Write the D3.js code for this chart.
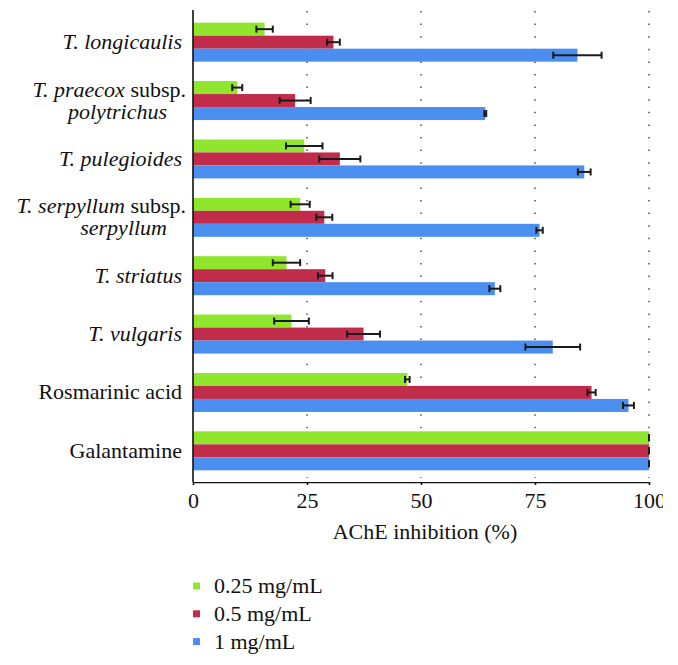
<!DOCTYPE html>
<html><head><meta charset="utf-8">
<script src="https://cdn.jsdelivr.net/npm/d3@7"></script>
<style>
html,body{margin:0;padding:0;background:#fff;}
svg{display:block;font-family:"Liberation Serif","DejaVu Serif",serif;}
</style></head>
<body>
<script>
const categories = ["T. longicaulis","T. praecox subsp. polytrichus","T. pulegioides","T. serpyllum subsp. serpyllum","T. striatus","T. vulgaris","Rosmarinic acid","Galantamine"];
const series = ["0.25 mg/mL","0.5 mg/mL","1 mg/mL"];
const v025 = [15.7, 9.7, 24.4, 23.5, 20.5, 21.6, 47.0, 100];
const e025 = [1.8, 1.1, 4.0, 2.1, 3.0, 3.8, 0.5, 0];
const v05  = [30.8, 22.4, 32.2, 28.8, 29.0, 37.4, 87.4, 100];
const e05  = [1.4, 3.4, 4.5, 1.75, 1.6, 3.6, 0.9, 0];
const v1   = [84.3, 64.1, 85.8, 76.0, 66.2, 78.9, 95.5, 100];
const e1   = [5.3, 0.2, 1.4, 0.7, 1.2, 6.0, 1.2, 0];
const xTicks = [0, 25, 50, 75, 100];
const colors = ["#8fe62c", "#c22c4b", "#4a8ef0"];

const values = [v025, v05, v1];
const errors = [e025, e05, e1];
const FS = 22;
const FONT = "'Liberation Serif', 'DejaVu Serif', serif";

const W = 678, H = 665;
const svg = d3.select("body").append("svg").attr("width", W).attr("height", H);

// the reference image is cropped just past the last tick label
svg.append("defs").append("clipPath").attr("id", "pageclip")
  .append("rect").attr("x", 0).attr("y", 0).attr("width", 663).attr("height", H);

const x = d3.scaleLinear().domain([0, 100]).range([193, 649]);
const y = d3.scaleBand().domain(categories).range([11, 482]).paddingInner(0.332).paddingOuter(0.2);
const yi = d3.scaleBand().domain(series).range([0, y.bandwidth()]);

// grid
svg.append("g").selectAll("line").data(xTicks.filter(t => t > 0)).join("line")
  .attr("x1", d => x(d)).attr("x2", d => x(d))
  .attr("y1", 11).attr("y2", 478)
  .attr("stroke", "#333").attr("stroke-width", 1.3)
  .attr("stroke-dasharray", "1.5 11.1");

// bars
const rows = [];
categories.forEach((c, i) => series.forEach((s, j) => rows.push({c, s, j, v: values[j][i], e: errors[j][i]})));

svg.append("g").selectAll("rect").data(rows).join("rect")
  .attr("x", x(0))
  .attr("y", d => y(d.c) + yi(d.s))
  .attr("width", d => x(d.v) - x(0))
  .attr("height", yi.bandwidth())
  .attr("fill", d => colors[d.j]);

// error bars
const eg = svg.append("g").attr("stroke", "#1a1a1a").attr("stroke-width", 2);
rows.forEach(d => {
  const cy = y(d.c) + yi(d.s) + yi.bandwidth() / 2;
  const x1 = x(d.v - d.e), x2 = x(d.v + d.e);
  eg.append("line").attr("x1", x1).attr("x2", x2).attr("y1", cy).attr("y2", cy);
  [x1, x2].forEach(xx => eg.append("line").attr("x1", xx).attr("x2", xx).attr("y1", cy - 3.5).attr("y2", cy + 3.5));
});

// axes
const xAxis = d3.axisBottom(x).tickValues(xTicks).tickSize(3).tickSizeOuter(0).tickPadding(4);
const gx = svg.append("g").attr("transform", "translate(0,482)").attr("clip-path", "url(#pageclip)").call(xAxis);
gx.attr("font-family", FONT).attr("font-size", FS);
gx.select(".domain").attr("stroke", "#111").attr("stroke-width", 1.6);
gx.selectAll(".tick line").attr("stroke", "#111").attr("stroke-width", 1.6).attr("y1", -6);
gx.selectAll(".tick text").attr("font-family", FONT)
  .attr("font-size", FS).attr("fill", "#111").attr("dy", null).attr("y", 26);

svg.append("line").attr("x1", x(0)).attr("x2", x(0)).attr("y1", 10).attr("y2", 482)
  .attr("stroke", "#111").attr("stroke-width", 1.6);

svg.append("text").attr("x", 425).attr("y", 539).attr("text-anchor", "middle")
  .attr("font-family", FONT).attr("font-size", FS).attr("fill", "#111").text("AChE inhibition (%)");

// category labels
const labelLines = {
  "T. longicaulis": [[["T. longicaulis", 1]]],
  "T. praecox subsp. polytrichus": [[["T. praecox", 1], [" subsp.", 0]], [["polytrichus", 1]]],
  "T. pulegioides": [[["T. pulegioides", 1]]],
  "T. serpyllum subsp. serpyllum": [[["T. serpyllum", 1], [" subsp.", 0]], [["serpyllum", 1]]],
  "T. striatus": [[["T. striatus", 1]]],
  "T. vulgaris": [[["T. vulgaris", 1]]],
  "Rosmarinic acid": [[["Rosmarinic acid", 0]]],
  "Galantamine": [[["Galantamine", 0]]]
};
const lg = svg.append("g").attr("font-family", FONT).attr("font-size", FS).attr("fill", "#111");
categories.forEach(c => {
  const cy = y(c) + y.bandwidth() / 2;
  const lines = labelLines[c];
  lines.forEach((segs, k) => {
    const yy = lines.length === 1 ? cy + 7 : cy - 11 + k * 22 + 7;
    const xx = (lines.length > 1 && k === 1) ? 167 : (lines.length > 1 ? 186 : 182);
    const t = lg.append("text").attr("x", xx).attr("y", yy).attr("text-anchor", "end");
    segs.forEach(([s, it]) => t.append("tspan").attr("font-style", it ? "italic" : "normal").text(s));
  });
});

// legend
const leg = svg.append("g");
series.forEach((s, j) => {
  const cy = 586 + j * 27.8;
  leg.append("rect").attr("x", 193).attr("y", cy - 3.5).attr("width", 7).attr("height", 7).attr("fill", colors[j]);
  leg.append("text").attr("x", 214).attr("y", cy + 7).attr("font-family", FONT).attr("font-size", FS).attr("fill", "#111").text(s);
});
</script>
</body></html>
